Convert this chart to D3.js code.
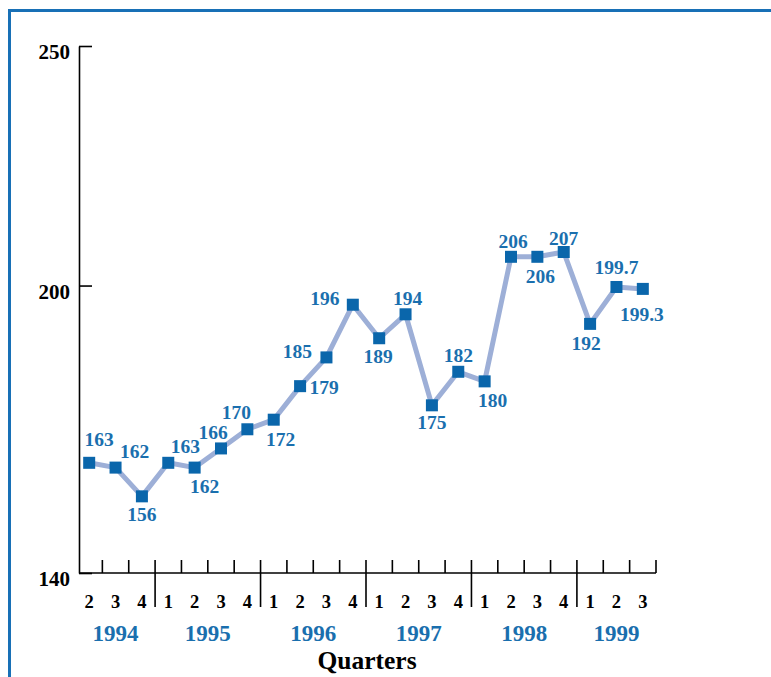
<!DOCTYPE html>
<html>
<head>
<meta charset="utf-8">
<script src="https://cdn.jsdelivr.net/npm/d3@7"></script>
<style>
  html, body { margin: 0; padding: 0; background: #fff; }
  svg { display: block; }
  text { font-family: "Liberation Serif", "Times New Roman", serif; font-weight: bold; }
</style>
</head>
<body>
<script>
// Quarterly series, 1994 Q2 through 1999 Q3
const years = [1994, 1994, 1994,
               1995, 1995, 1995, 1995,
               1996, 1996, 1996, 1996,
               1997, 1997, 1997, 1997,
               1998, 1998, 1998, 1998,
               1999, 1999, 1999];
const quarterNums = [2, 3, 4,
                     1, 2, 3, 4,
                     1, 2, 3, 4,
                     1, 2, 3, 4,
                     1, 2, 3, 4,
                     1, 2, 3];
const values = [163, 162, 156,
                163, 162, 166, 170,
                172, 179, 185, 196,
                189, 194, 175, 182,
                180, 206, 206, 207,
                192, 199.7, 199.3];
const valueLabels = ["163", "162", "156",
                     "163", "162", "166", "170",
                     "172", "179", "185", "196",
                     "189", "194", "175", "182",
                     "180", "206", "206", "207",
                     "192", "199.7", "199.3"];
const yTicks = [140, 200, 250];
const xTitle = "Quarters";

const W = 771, H = 677;
const svg = d3.select("body").append("svg").attr("width", W).attr("height", H);

// outer frame (only top and left edges fall inside the view)
svg.append("rect")
  .attr("x", 9.5).attr("y", 10.5)
  .attr("width", W + 20).attr("height", H + 20)
  .attr("fill", "none").attr("stroke", "#1870b6").attr("stroke-width", 3);

const axisX = 79, axisY = 573;
const ids = values.map((_, i) => i);
const x = d3.scaleBand().domain(ids).range([76, 656]).padding(0);
const y = d3.scaleLinear().domain([140, 250]).range([axisY, 46]);
const cx = i => x(i) + x.bandwidth() / 2;

// y axis: ticks point inward
const yAxis = d3.axisLeft(y).tickValues(yTicks).tickSize(-13).tickSizeOuter(0).tickPadding(9);
const gy = svg.append("g").attr("transform", `translate(${axisX},0)`).call(yAxis);
gy.select(".domain").attr("stroke", "#000").attr("stroke-width", 1.6);
gy.selectAll(".tick line").attr("stroke", "#000").attr("stroke-width", 1.6);
gy.selectAll(".tick text")
  .attr("fill", "#000").attr("dy", "0.6em")
  .style("font-family", "'Liberation Serif', serif").style("font-weight", "bold")
  .style("font-size", "21px");

// x axis: baseline, quarter ticks and year separators
const gx = svg.append("g");
gx.append("line")
  .attr("x1", axisX).attr("x2", x.range()[1])
  .attr("y1", axisY).attr("y2", axisY)
  .attr("stroke", "#000").attr("stroke-width", 1.6);

const boundaries = ids.slice(1).map(i => ({ pos: x(i), yearStart: years[i] !== years[i - 1] }));
boundaries.push({ pos: x.range()[1], yearStart: false });
gx.selectAll("line.tick").data(boundaries).join("line")
  .attr("class", "tick")
  .attr("x1", d => d.pos).attr("x2", d => d.pos)
  .attr("y1", axisY - 13)
  .attr("y2", d => d.yearStart ? axisY + 34 : axisY)
  .attr("stroke", "#000").attr("stroke-width", 1.6);

gx.selectAll("text.q").data(ids).join("text")
  .attr("class", "q")
  .attr("x", i => cx(i)).attr("y", 602)
  .attr("text-anchor", "middle").attr("dominant-baseline", "central")
  .attr("font-size", 18.5).attr("fill", "#000")
  .text(i => quarterNums[i]);

const yearGroups = d3.groups(ids, i => years[i]);
gx.selectAll("text.yr").data(yearGroups).join("text")
  .attr("class", "yr")
  .attr("x", ([, idx]) => (x(idx[0]) + x(idx[idx.length - 1]) + x.bandwidth()) / 2)
  .attr("y", 633)
  .attr("text-anchor", "middle").attr("dominant-baseline", "central")
  .attr("font-size", 23).attr("fill", "#1a6fae")
  .text(([yr]) => yr);

svg.append("text")
  .attr("x", 367).attr("y", 660)
  .attr("text-anchor", "middle").attr("dominant-baseline", "central")
  .attr("font-size", 25.5).attr("fill", "#000")
  .text(xTitle);

// series line and square markers
const line = d3.line().x(i => cx(i)).y(i => y(values[i]));
svg.append("path")
  .datum(ids)
  .attr("d", line)
  .attr("fill", "none").attr("stroke", "#9dafd7").attr("stroke-width", 5)
  .attr("stroke-linejoin", "round");

const m = 12;
svg.selectAll("rect.pt").data(ids).join("rect")
  .attr("class", "pt")
  .attr("x", i => cx(i) - m / 2).attr("y", i => y(values[i]) - m / 2)
  .attr("width", m).attr("height", m)
  .attr("fill", "#0a66ab");

// value label placement relative to each marker
const labelOffsets = [
  [10, -23], [19, -16], [0, 18],
  [17, -16], [10, 19], [-8, -16], [-11, -17],
  [7, 20], [24, 1], [-29, -6], [-28, -6],
  [-1, 18], [2, -16], [0, 17], [0, -16],
  [8, 19], [2, -15], [3, 20], [0, -14],
  [-4, 20], [0, -19], [-1, 26]
];
svg.selectAll("text.val").data(ids).join("text")
  .attr("class", "val")
  .attr("x", i => cx(i) + labelOffsets[i][0])
  .attr("y", i => y(values[i]) + labelOffsets[i][1])
  .attr("text-anchor", "middle").attr("dominant-baseline", "central")
  .attr("font-size", 19.5).attr("fill", "#1a6fae")
  .text(i => valueLabels[i]);
</script>
</body>
</html>
